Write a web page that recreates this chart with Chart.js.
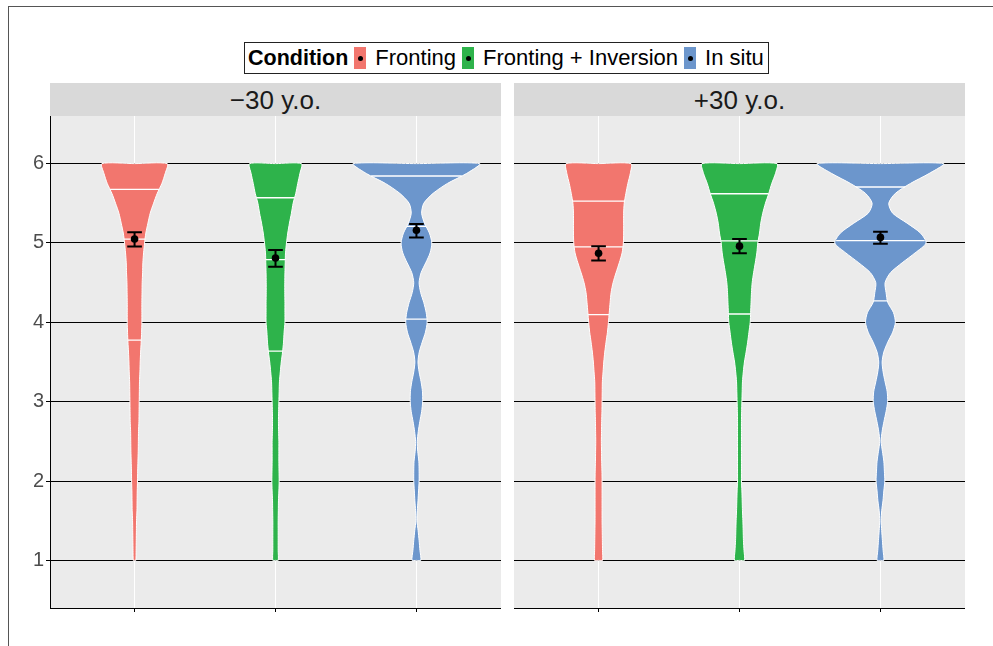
<!DOCTYPE html>
<html>
<head>
<meta charset="utf-8">
<script src="https://cdn.jsdelivr.net/npm/chart.js@4"></script>
<style>
  body { margin: 0; width: 993px; height: 646px; background: #fff; position: relative; overflow: hidden;
         font-family: "Liberation Sans", Arial, sans-serif; }
  .frame { position: absolute; left: 8px; top: 6px; width: 990px; height: 650px;
           border-top: 1px solid #555; border-left: 1px solid #555; }
  .legend { position: absolute; left: 244px; top: 42px; height: 30px; border: 1px solid #222;
            display: flex; align-items: center; padding: 0 4px 0 3px; font-size: 22px; color: #000;
            white-space: nowrap; background: #fff; }
  .legend b { font-size: 21.5px; }
  .key { width: 12px; height: 22px; margin: 0 9px 0 6px; position: relative; display: inline-block; }
  .key::after { content: ''; position: absolute; left: 3.5px; top: 8.5px; width: 5px; height: 5px;
                border-radius: 50%; background: #000; }
  .strip { position: absolute; top: 83px; height: 33px; width: 451px; background: #D9D9D9;
           color: #1a1a1a; font-size: 26px; line-height: 34px; text-align: center; }
  canvas { position: absolute; }
</style>
</head>
<body>
<div class="frame"></div>
<div class="legend">
  <b>Condition</b>
  <span class="key" style="background:#F2766E"></span>Fronting
  <span class="key" style="background:#2EB34B"></span>Fronting + Inversion
  <span class="key" style="background:#6C96CC"></span>In situ
</div>
<div class="strip" style="left:50px">−30 y.o.</div>
<div class="strip" style="left:514px">+30 y.o.</div>
<canvas id="young" width="501" height="526" style="left:0;top:116px"></canvas>
<canvas id="older" width="451" height="526" style="left:514px;top:116px"></canvas>
<script>
// categories and colours
const conditions = ['Fronting', 'Fronting + Inversion', 'In situ'];
const colours = ['#F2766E', '#2EB34B', '#6C96CC'];
const yTicks = [1, 2, 3, 4, 5, 6];

// y values at which the violin half-widths were read (rating scale)
const densityY = [6, 5.875, 5.75, 5.625, 5.5, 5.375, 5.25, 5.125, 5, 4.875, 4.75, 4.625, 4.5, 4.375, 4.25, 4.125,
  4, 3.875, 3.75, 3.625, 3.5, 3.375, 3.25, 3.125, 3, 2.875, 2.75, 2.625, 2.5, 2.375, 2.25, 2.125,
  2, 1.875, 1.75, 1.625, 1.5, 1.375, 1.25, 1.125, 1];

// violin half-widths (x units), -30 y.o.
const youngFronting = [0.232, 0.217, 0.194, 0.161, 0.135, 0.111, 0.095, 0.080, 0.071, 0.064, 0.059, 0.057, 0.054, 0.053,
  0.052, 0.052, 0.052, 0.050, 0.047, 0.043, 0.040, 0.038, 0.035, 0.034, 0.033, 0.032, 0.031, 0.028, 0.027, 0.026,
  0.024, 0.022, 0.021, 0.019, 0.018, 0.017, 0.014, 0.013, 0.012, 0.011, 0.009];
const youngInversion = [0.184, 0.173, 0.158, 0.144, 0.125, 0.113, 0.099, 0.087, 0.078, 0.071, 0.069, 0.067, 0.066, 0.066,
  0.067, 0.067, 0.067, 0.061, 0.057, 0.050, 0.041, 0.034, 0.028, 0.026, 0.024, 0.022, 0.021, 0.022, 0.024, 0.024,
  0.024, 0.025, 0.026, 0.024, 0.021, 0.020, 0.019, 0.019, 0.019, 0.019, 0.019];
const youngInSitu = [0.449, 0.355, 0.220, 0.118, 0.052, 0.037, 0.057, 0.092, 0.109, 0.097, 0.066, 0.033, 0.019, 0.030,
  0.052, 0.069, 0.076, 0.064, 0.041, 0.020, 0.011, 0.019, 0.033, 0.043, 0.044, 0.037, 0.024, 0.013, 0.006, 0.009,
  0.017, 0.019, 0.019, 0.015, 0.011, 0.006, 0.004, 0.012, 0.019, 0.025, 0.031];

// violin half-widths (x units), +30 y.o.
const olderFronting = [0.230, 0.225, 0.208, 0.194, 0.182, 0.178, 0.178, 0.178, 0.176, 0.167, 0.147, 0.124, 0.103, 0.089,
  0.082, 0.076, 0.070, 0.063, 0.053, 0.044, 0.037, 0.032, 0.027, 0.026, 0.025, 0.024, 0.022, 0.021, 0.020, 0.021,
  0.022, 0.024, 0.025, 0.025, 0.025, 0.025, 0.025, 0.026, 0.027, 0.028, 0.028];
const olderInversion = [0.266, 0.255, 0.229, 0.208, 0.184, 0.165, 0.151, 0.142, 0.130, 0.123, 0.112, 0.100, 0.090, 0.085,
  0.082, 0.079, 0.076, 0.067, 0.058, 0.047, 0.035, 0.027, 0.021, 0.019, 0.017, 0.015, 0.014, 0.014, 0.014, 0.014,
  0.014, 0.014, 0.014, 0.017, 0.019, 0.021, 0.024, 0.026, 0.028, 0.032, 0.035];
const olderInSitu = [0.449, 0.345, 0.213, 0.106, 0.059, 0.087, 0.189, 0.284, 0.324, 0.246, 0.154, 0.071, 0.033, 0.040,
  0.052, 0.092, 0.106, 0.087, 0.052, 0.024, 0.012, 0.019, 0.033, 0.048, 0.051, 0.040, 0.025, 0.012, 0.005, 0.014,
  0.024, 0.028, 0.031, 0.024, 0.018, 0.009, 0.005, 0.009, 0.014, 0.019, 0.024];

// quartile lines (75%, 50%, 25%)
const youngQuartiles = [[5.676, 5.048, 3.776], [5.57, 4.79, 3.637], [5.844, 5.21, 4.04]];
const olderQuartiles = [[5.528, 4.951, 4.096], [5.62, 5.027, 4.105], [5.705, 5.03, 4.27]];

// means and standard error bars
const youngMeans = [5.05, 4.81, 5.16];
const youngLow = [4.955, 4.70, 5.07];
const youngHigh = [5.136, 4.91, 5.24];
const olderMeans = [4.87, 4.96, 5.07];
const olderLow = [4.78, 4.87, 4.99];
const olderHigh = [4.96, 5.05, 5.14];

const capHalf = 0.052;

function halfWidthAt(widths, v) {
  for (let i = 0; i < densityY.length - 1; i++) {
    if (v <= densityY[i] && v >= densityY[i + 1]) {
      const t = (densityY[i] - v) / (densityY[i] - densityY[i + 1]);
      return widths[i] + t * (widths[i + 1] - widths[i]);
    }
  }
  return 0;
}

function facetDatasets(widths, quartiles, means, lows, highs) {
  const sets = [];
  widths.forEach((w, k) => {
    const c = k + 1;
    // closed outline: top centre, right side down, bottom centre, left side up
    const pts = [{x: c, y: densityY[0]}];
    densityY.forEach((y, i) => pts.push({x: c + w[i], y: y}));
    pts.push({x: c, y: densityY[densityY.length - 1]});
    for (let i = densityY.length - 1; i >= 0; i--) pts.push({x: c - w[i], y: densityY[i]});
    pts.push({x: c, y: densityY[0]});
    sets.push({
      type: 'line', label: conditions[k], data: pts, borderColor: '#fff', borderWidth: 1,
      backgroundColor: colours[k], fill: 'shape', pointRadius: 0, tension: 0.25, order: 4
    });

    const q = [];
    quartiles[k].forEach(v => {
      const h = halfWidthAt(w, v);
      q.push({x: c - h, y: v}, {x: c + h, y: v}, {x: c, y: null});
    });
    sets.push({type: 'line', data: q, borderColor: '#fff', borderWidth: 1.3, pointRadius: 0, fill: false, order: 3});

    sets.push({
      type: 'line',
      data: [
        {x: c - capHalf, y: highs[k]}, {x: c + capHalf, y: highs[k]}, {x: c, y: null},
        {x: c, y: highs[k]}, {x: c, y: lows[k]}, {x: c, y: null},
        {x: c - capHalf, y: lows[k]}, {x: c + capHalf, y: lows[k]}
      ],
      borderColor: '#000', borderWidth: 2, pointRadius: 0, fill: false, order: 2
    });
  });
  sets.push({
    type: 'scatter', data: means.map((m, k) => ({x: k + 1, y: m})),
    pointRadius: 3.8, pointBackgroundColor: '#000', pointBorderWidth: 0, order: 1
  });
  return sets;
}

const panelBg = {
  id: 'panelBg',
  beforeDraw(chart) {
    const {ctx, chartArea: a} = chart;
    ctx.save();
    ctx.fillStyle = '#EBEBEB';
    ctx.fillRect(a.left, a.top, a.right - a.left, a.bottom - a.top);
    ctx.restore();
  }
};

function makeFacet(id, showY, datasets) {
  return new Chart(document.getElementById(id), {
    type: 'scatter',
    data: {datasets: datasets},
    options: {
      responsive: false,
      animation: false,
      layout: {padding: 0, autoPadding: false},
      plugins: {legend: {display: false}, tooltip: {enabled: false}, title: {display: false}},
      scales: {
        x: {
          type: 'linear', min: 0.4, max: 3.6,
          afterBuildTicks: s => { s.ticks = [1, 2, 3].map(v => ({value: v})); },
          afterFit: s => { s.height = 34; s.paddingLeft = 0; s.paddingRight = 0; },
          ticks: {display: false},
          grid: {color: '#fff', lineWidth: 1, tickColor: '#000', tickLength: 4, drawTicks: true},
          border: {display: true, color: '#000', width: 1}
        },
        y: {
          type: 'linear', min: 0.4, max: 6.6,
          afterBuildTicks: s => { s.ticks = yTicks.map(v => ({value: v})); },
          afterFit: s => { s.width = showY ? 50 : 0; s.paddingTop = 0; s.paddingBottom = 0; },
          ticks: {display: showY, color: '#4d4d4d', padding: 2,
                  font: {size: 20, family: '"Liberation Sans", Arial, sans-serif'}},
          grid: {color: '#000', lineWidth: 1, tickColor: '#000', tickLength: 4, drawTicks: showY},
          border: {display: showY, color: '#000', width: 1}
        }
      }
    },
    plugins: [panelBg]
  });
}

makeFacet('young', true, facetDatasets([youngFronting, youngInversion, youngInSitu], youngQuartiles,
  youngMeans, youngLow, youngHigh));
makeFacet('older', false, facetDatasets([olderFronting, olderInversion, olderInSitu], olderQuartiles,
  olderMeans, olderLow, olderHigh));
</script>
</body>
</html>
